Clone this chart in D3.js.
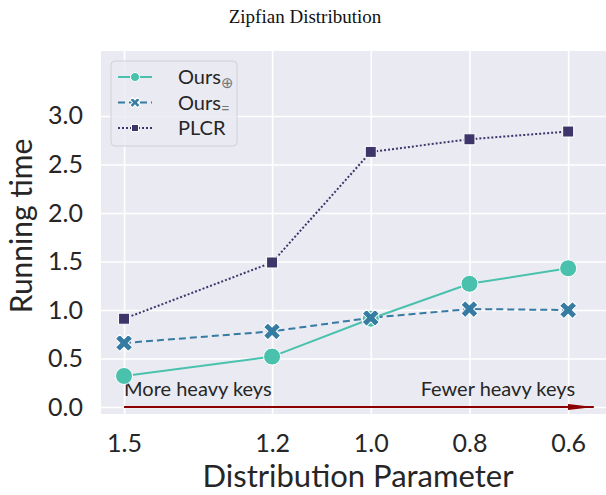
<!DOCTYPE html>
<html>
<head>
<meta charset="utf-8">
<script src="https://cdn.jsdelivr.net/npm/d3@7"></script>
<style>
  body { margin: 0; background: #fff; }
  text { font-family: Lato, "DejaVu Sans", sans-serif; fill: #262626; }
</style>
</head>
<body>
<svg id="chart" width="606" height="495"></svg>
<script>
// chart values
const params = [1.5, 1.2, 1.0, 0.8, 0.6]
const oursPlus = [0.32, 0.52, 0.91, 1.27, 1.43]
const oursEq = [0.66, 0.78, 0.92, 1.01, 1.00]
const plcr = [0.91, 1.49, 2.63, 2.76, 2.84]
const yTicks = [0.0, 0.5, 1.0, 1.5, 2.0, 2.5, 3.0]

const svg = d3.select("#chart")
const margin = {left: 101, right: 0, top: 51, bottom: 81}
const W = 606, H = 495

const x = d3.scaleLinear().domain([1.5467, 0.5233]).range([margin.left, W - margin.right])
const y = d3.scaleLinear().domain([-0.072, 3.67]).range([H - margin.bottom, margin.top])

// background
svg.append("rect")
    .attr("x", margin.left).attr("y", margin.top)
    .attr("width", W - margin.left - margin.right).attr("height", H - margin.top - margin.bottom)
    .attr("fill", "#eaeaf2")

// grid + ticks via axes
const xAxis = svg.append("g")
    .attr("transform", `translate(0,${H - margin.bottom})`)
    .call(d3.axisBottom(x).tickValues(params).tickFormat(d3.format(".1f"))
        .tickSize(-(H - margin.top - margin.bottom)).tickPadding(20))
xAxis.select(".domain").remove()
xAxis.selectAll("line").attr("stroke", "#fff").attr("stroke-width", 1.6)
xAxis.selectAll("text").attr("font-size", 25).attr("dy", "0.71em")

const yAxis = svg.append("g")
    .attr("transform", `translate(${margin.left},0)`)
    .call(d3.axisLeft(y).tickValues(yTicks).tickFormat(d3.format(".1f"))
        .tickSize(-(W - margin.left - margin.right)).tickPadding(18))
yAxis.select(".domain").remove()
yAxis.selectAll("line").attr("stroke", "#fff").attr("stroke-width", 1.6)
yAxis.selectAll("text").attr("font-size", 25)

// axis labels + title
svg.append("text").attr("x", 358).attr("y", 487).attr("text-anchor", "middle")
    .attr("font-size", 31).text("Distribution Parameter")
svg.append("text").attr("transform", "translate(32,226) rotate(-90)").attr("text-anchor", "middle")
    .attr("font-size", 30).text("Running time")
svg.append("text").attr("x", 305).attr("y", 23).attr("text-anchor", "middle")
    .style("font-family", "'Liberation Serif', serif").style("fill", "#111")
    .attr("font-size", 19).text("Zipfian Distribution")

// annotation arrow
const defs = svg.append("defs")
defs.append("marker").attr("id", "arr").attr("viewBox", "0 0 26 6")
    .attr("refX", 26).attr("refY", 3).attr("markerWidth", 26).attr("markerHeight", 6)
    .attr("markerUnits", "userSpaceOnUse").attr("orient", "auto")
    .append("path").attr("d", "M0,0 L26,3 L0,6 Z").attr("fill", "#8b0000")
const arrowY = 0.0
svg.append("line")
    .attr("x1", x(1.5)).attr("x2", x(0.548))
    .attr("y1", y(arrowY)).attr("y2", y(arrowY))
    .attr("stroke", "#8b0000").attr("stroke-width", 2.2)
    .attr("marker-end", "url(#arr)")
svg.append("text").attr("x", x(1.5)).attr("y", y(arrowY) - 11)
    .attr("font-size", 20).text("More heavy keys")
svg.append("text").attr("x", x(0.586)).attr("y", y(arrowY) - 11).attr("text-anchor", "end")
    .attr("font-size", 20).text("Fewer heavy keys")

// series
const series = [
    {name: "Ours", sub: "⊕", values: oursPlus, color: "#49c1ad", dash: null, marker: "circle"},
    {name: "Ours", sub: "=", values: oursEq, color: "#357ba2", dash: "7,4", marker: "cross"},
    {name: "PLCR", sub: "", values: plcr, color: "#3e356b", dash: "2,2", marker: "square"}
]

const line = d3.line().x((d, i) => x(params[i])).y(d => y(d))

function drawMarker(g, type, color, size) {
    if (type === "circle") {
        g.append("circle").attr("r", size).attr("fill", color).attr("stroke", "#fff").attr("stroke-width", 1)
    } else if (type === "square") {
        g.append("rect").attr("x", -size).attr("y", -size).attr("width", 2 * size).attr("height", 2 * size)
            .attr("fill", color).attr("stroke", "#fff").attr("stroke-width", 1)
    } else {
        g.append("path").attr("d", d3.symbol(d3.symbolCross, size * size * 3.2)())
            .attr("transform", "rotate(45)")
            .attr("fill", color).attr("stroke", "#fff").attr("stroke-width", 1)
    }
}

series.forEach(s => {
    svg.append("path").datum(s.values).attr("d", line)
        .attr("fill", "none").attr("stroke", s.color).attr("stroke-width", 2)
        .attr("stroke-dasharray", s.dash)
})
series.forEach(s => {
    const sz = s.marker === "circle" ? 8.5 : (s.marker === "square" ? 5.5 : 7.5)
    s.values.forEach((v, i) => {
        const g = svg.append("g").attr("transform", `translate(${x(params[i])},${y(v)})`)
        drawMarker(g, s.marker, s.color, sz)
    })
})

// legend
const leg = svg.append("g").attr("transform", "translate(111,61)")
leg.append("rect").attr("width", 126).attr("height", 85).attr("rx", 4)
    .attr("fill", "#eaeaf2").attr("fill-opacity", 0.8).attr("stroke", "#d0d0d8")
series.forEach((s, i) => {
    const cy = 16 + i * 25.5
    leg.append("line").attr("x1", 7).attr("x2", 41).attr("y1", cy).attr("y2", cy)
        .attr("stroke", s.color).attr("stroke-width", 2).attr("stroke-dasharray", s.dash)
    const g = leg.append("g").attr("transform", `translate(24,${cy})`)
    drawMarker(g, s.marker, s.color, s.marker === "circle" ? 4.5 : (s.marker === "square" ? 3.5 : 4.5))
    const t = leg.append("text").attr("x", 67).attr("y", cy + 7).attr("font-size", 20).text(s.name)
    if (s.sub) t.append("tspan").attr("font-size", 15).attr("dy", 4).attr("fill", "#777").text(s.sub)
})
</script>
</body>
</html>
